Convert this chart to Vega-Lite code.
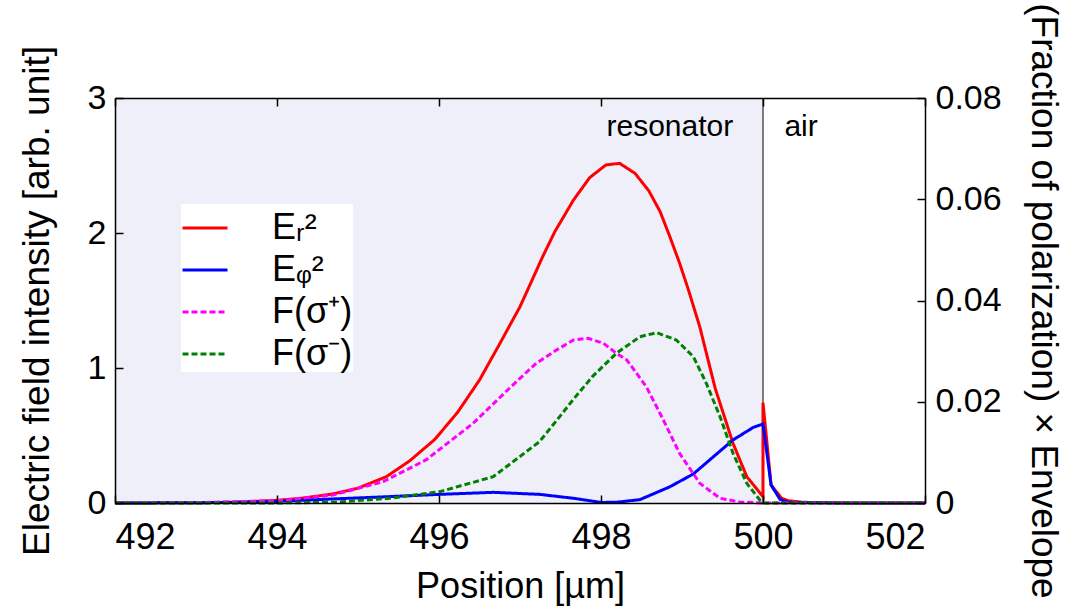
{
  "$schema": "https://vega.github.io/schema/vega-lite/v6.json",
  "width": 810,
  "height": 405,
  "autosize": {"type": "none"},
  "padding": {"left": 115, "top": 98, "right": 144, "bottom": 111},
  "background": "white",
  "config": {
    "font": "Liberation Sans",
    "view": {"stroke": null},
    "axis": {
      "domainColor": "black", "domainWidth": 1.5, "tickColor": "black", "tickWidth": 1.5,
      "grid": false, "labelColor": "black", "titleColor": "black", "titleFontWeight": "normal",
      "labelFontSize": 34, "titleFontSize": 37, "labelFont": "Liberation Sans", "titleFont": "Liberation Sans"
    }
  },
  "datasets": {
    "curves": [
      {"series": "Eᵣ²", "x": 492.0, "v": 0.0},
      {"series": "Eᵣ²", "x": 492.5, "v": 0.001},
      {"series": "Eᵣ²", "x": 493.0, "v": 0.002},
      {"series": "Eᵣ²", "x": 493.5, "v": 0.006},
      {"series": "Eᵣ²", "x": 494.0, "v": 0.02},
      {"series": "Eᵣ²", "x": 494.3, "v": 0.035},
      {"series": "Eᵣ²", "x": 494.69, "v": 0.067},
      {"series": "Eᵣ²", "x": 495.0, "v": 0.11},
      {"series": "Eᵣ²", "x": 495.35, "v": 0.195},
      {"series": "Eᵣ²", "x": 495.64, "v": 0.313},
      {"series": "Eᵣ²", "x": 495.95, "v": 0.472},
      {"series": "Eᵣ²", "x": 496.23, "v": 0.672},
      {"series": "Eᵣ²", "x": 496.5, "v": 0.911},
      {"series": "Eᵣ²", "x": 496.73, "v": 1.158},
      {"series": "Eᵣ²", "x": 497.0, "v": 1.454},
      {"series": "Eᵣ²", "x": 497.14, "v": 1.639},
      {"series": "Eᵣ²", "x": 497.28, "v": 1.825},
      {"series": "Eᵣ²", "x": 497.43, "v": 2.01},
      {"series": "Eᵣ²", "x": 497.66, "v": 2.244},
      {"series": "Eᵣ²", "x": 497.86, "v": 2.41},
      {"series": "Eᵣ²", "x": 498.06, "v": 2.504},
      {"series": "Eᵣ²", "x": 498.23, "v": 2.516},
      {"series": "Eᵣ²", "x": 498.42, "v": 2.442},
      {"series": "Eᵣ²", "x": 498.59, "v": 2.313},
      {"series": "Eᵣ²", "x": 498.73, "v": 2.158},
      {"series": "Eᵣ²", "x": 498.85, "v": 1.973},
      {"series": "Eᵣ²", "x": 498.97, "v": 1.777},
      {"series": "Eᵣ²", "x": 499.08, "v": 1.578},
      {"series": "Eᵣ²", "x": 499.22, "v": 1.304},
      {"series": "Eᵣ²", "x": 499.41, "v": 0.849},
      {"series": "Eᵣ²", "x": 499.63, "v": 0.442},
      {"series": "Eᵣ²", "x": 499.8, "v": 0.195},
      {"series": "Eᵣ²", "x": 500.0, "v": 0.047},
      {"series": "Eᵣ²", "x": 500.0, "v": 0.743},
      {"series": "Eᵣ²", "x": 500.1, "v": 0.133},
      {"series": "Eᵣ²", "x": 500.23, "v": 0.035},
      {"series": "Eᵣ²", "x": 500.31, "v": 0.017},
      {"series": "Eᵣ²", "x": 500.5, "v": 0.005},
      {"series": "Eᵣ²", "x": 501.0, "v": 0.001},
      {"series": "Eᵣ²", "x": 502.0, "v": 0.0},

      {"series": "Eᵩ²", "x": 492.0, "v": 0.0},
      {"series": "Eᵩ²", "x": 493.0, "v": 0.002},
      {"series": "Eᵩ²", "x": 493.54, "v": 0.005},
      {"series": "Eᵩ²", "x": 494.0, "v": 0.012},
      {"series": "Eᵩ²", "x": 494.69, "v": 0.03},
      {"series": "Eᵩ²", "x": 495.3, "v": 0.045},
      {"series": "Eᵩ²", "x": 496.01, "v": 0.064},
      {"series": "Eᵩ²", "x": 496.67, "v": 0.079},
      {"series": "Eᵩ²", "x": 497.24, "v": 0.064},
      {"series": "Eᵩ²", "x": 497.66, "v": 0.035},
      {"series": "Eᵩ²", "x": 498.0, "v": 0.004},
      {"series": "Eᵩ²", "x": 498.2, "v": 0.006},
      {"series": "Eᵩ²", "x": 498.48, "v": 0.025},
      {"series": "Eᵩ²", "x": 498.85, "v": 0.12},
      {"series": "Eᵩ²", "x": 499.14, "v": 0.215},
      {"series": "Eᵩ²", "x": 499.34, "v": 0.318},
      {"series": "Eᵩ²", "x": 499.63, "v": 0.467},
      {"series": "Eᵩ²", "x": 499.88, "v": 0.56},
      {"series": "Eᵩ²", "x": 500.0, "v": 0.585},
      {"series": "Eᵩ²", "x": 500.1, "v": 0.133},
      {"series": "Eᵩ²", "x": 500.21, "v": 0.027},
      {"series": "Eᵩ²", "x": 500.31, "v": 0.005},
      {"series": "Eᵩ²", "x": 501.0, "v": 0.0},
      {"series": "Eᵩ²", "x": 502.0, "v": 0.0},

      {"series": "F(σ⁺)", "x": 492.0, "v": 0.0},
      {"series": "F(σ⁺)", "x": 493.0, "v": 0.00008},
      {"series": "F(σ⁺)", "x": 494.0, "v": 0.00045},
      {"series": "F(σ⁺)", "x": 494.69, "v": 0.00157},
      {"series": "F(σ⁺)", "x": 495.31, "v": 0.00421},
      {"series": "F(σ⁺)", "x": 495.84, "v": 0.00851},
      {"series": "F(σ⁺)", "x": 496.42, "v": 0.01573},
      {"series": "F(σ⁺)", "x": 496.87, "v": 0.02267},
      {"series": "F(σ⁺)", "x": 497.2, "v": 0.0276},
      {"series": "F(σ⁺)", "x": 497.45, "v": 0.03021},
      {"series": "F(σ⁺)", "x": 497.66, "v": 0.03219},
      {"series": "F(σ⁺)", "x": 497.84, "v": 0.03253},
      {"series": "F(σ⁺)", "x": 498.03, "v": 0.03155},
      {"series": "F(σ⁺)", "x": 498.19, "v": 0.02957},
      {"series": "F(σ⁺)", "x": 498.32, "v": 0.02824},
      {"series": "F(σ⁺)", "x": 498.56, "v": 0.02296},
      {"series": "F(σ⁺)", "x": 498.77, "v": 0.0164},
      {"series": "F(σ⁺)", "x": 498.97, "v": 0.00981},
      {"series": "F(σ⁺)", "x": 499.22, "v": 0.00389},
      {"series": "F(σ⁺)", "x": 499.47, "v": 0.00093},
      {"series": "F(σ⁺)", "x": 499.71, "v": 0.00021},
      {"series": "F(σ⁺)", "x": 500.0, "v": 0.0},
      {"series": "F(σ⁺)", "x": 502.0, "v": 0.0},

      {"series": "F(σ⁻)", "x": 492.0, "v": 0.0},
      {"series": "F(σ⁻)", "x": 494.0, "v": 0.00001},
      {"series": "F(σ⁻)", "x": 494.69, "v": 0.00013},
      {"series": "F(σ⁻)", "x": 495.39, "v": 0.00093},
      {"series": "F(σ⁻)", "x": 496.01, "v": 0.00224},
      {"series": "F(σ⁻)", "x": 496.67, "v": 0.0052},
      {"series": "F(σ⁻)", "x": 497.24, "v": 0.01211},
      {"series": "F(σ⁻)", "x": 497.49, "v": 0.01707},
      {"series": "F(σ⁻)", "x": 497.66, "v": 0.0205},
      {"series": "F(σ⁻)", "x": 497.9, "v": 0.02507},
      {"series": "F(σ⁻)", "x": 498.19, "v": 0.02957},
      {"series": "F(σ⁻)", "x": 498.48, "v": 0.03285},
      {"series": "F(σ⁻)", "x": 498.69, "v": 0.03363},
      {"series": "F(σ⁻)", "x": 498.93, "v": 0.03219},
      {"series": "F(σ⁻)", "x": 499.14, "v": 0.02891},
      {"series": "F(σ⁻)", "x": 499.3, "v": 0.02365},
      {"series": "F(σ⁻)", "x": 499.47, "v": 0.01704},
      {"series": "F(σ⁻)", "x": 499.63, "v": 0.00981},
      {"series": "F(σ⁻)", "x": 499.8, "v": 0.00389},
      {"series": "F(σ⁻)", "x": 499.96, "v": 0.00059},
      {"series": "F(σ⁻)", "x": 500.0, "v": 0.0},
      {"series": "F(σ⁻)", "x": 502.0, "v": 0.0}
    ]
  },
  "layer": [
    {
      "layer": [
        {
          "data": {"values": [{"start": 492, "end": 500}]},
          "mark": {"type": "rect", "color": "#eeeff8"},
          "encoding": {
            "x": {"field": "start", "type": "quantitative", "title": "Position [µm]",
              "scale": {"domain": [492, 502], "nice": false, "zero": false},
              "axis": {"orient": "bottom", "zindex": 2, "ticks": true, "values": [492, 494, 496, 498, 500, 502], "format": "d", "tickSize": -8, "labelPadding": 25, "labelFontSize": 36, "titlePadding": 14, "titleFontSize": 36}},
            "x2": {"field": "end"}
          }
        },
        {
          "data": {"values": [{"boundary": 500}]},
          "mark": {"type": "rule", "color": "black", "strokeWidth": 1},
          "encoding": {"x": {"field": "boundary", "type": "quantitative", "title": "Position [µm]"}}
        },
        {
          "data": {"name": "curves"},
          "transform": [{"filter": "datum.series === 'Eᵣ²' || datum.series === 'Eᵩ²'"}],
          "mark": {"type": "line", "strokeWidth": 3},
          "encoding": {
            "x": {"field": "x", "type": "quantitative", "title": "Position [µm]"},
            "y": {"field": "v", "type": "quantitative", "title": "Electric field intensity [arb. unit]",
              "scale": {"domain": [0, 3], "nice": false},
              "axis": {"orient": "left", "zindex": 2, "ticks": true, "values": [0, 1, 2, 3], "format": "d", "tickSize": -8, "labelPadding": 17, "titlePadding": 31}},
            "order": {"value": null},
            "color": {"field": "series", "type": "nominal",
              "scale": {"domain": ["Eᵣ²", "Eᵩ²", "F(σ⁺)", "F(σ⁻)"], "range": ["#ff0000", "#0000ff", "#ff00ff", "#008000"]},
              "legend": {"title": null, "orient": "none", "legendX": 66, "legendY": 106, "fillColor": "white", "padding": 0,
                "symbolType": "stroke", "symbolSize": 2025, "symbolStrokeWidth": 3, "labelFontSize": 36, "labelOffset": 43,
                "rowPadding": -6, "labelColor": "black", "labelFont": "Liberation Sans"}},
            "strokeDash": {"field": "series", "type": "nominal",
              "scale": {"domain": ["Eᵣ²", "Eᵩ²", "F(σ⁺)", "F(σ⁻)"], "range": [[1, 0], [1, 0], [6, 3], [6, 3]]},
              "legend": {"title": null, "orient": "none", "legendX": 66, "legendY": 106, "fillColor": "white", "padding": 0,
                "symbolType": "stroke", "symbolSize": 2025, "symbolStrokeWidth": 3, "labelFontSize": 36, "labelOffset": 43,
                "rowPadding": -6, "labelColor": "black", "labelFont": "Liberation Sans"}}
          }
        },
        {
          "data": {"values": [{"label": "resonator", "x": 498.85, "v": 2.785}, {"label": "air", "x": 500.47, "v": 2.785}]},
          "mark": {"type": "text", "fontSize": 30, "align": "center", "baseline": "middle", "color": "black", "font": "Liberation Sans"},
          "encoding": {
            "x": {"field": "x", "type": "quantitative", "title": "Position [µm]"},
            "y": {"field": "v", "type": "quantitative", "title": "Electric field intensity [arb. unit]"},
            "text": {"field": "label"}
          }
        }
      ]
    },
    {
      "data": {"name": "curves"},
      "transform": [{"filter": "datum.series === 'F(σ⁺)' || datum.series === 'F(σ⁻)'"}],
      "mark": {"type": "line", "strokeWidth": 3},
      "encoding": {
        "x": {"field": "x", "type": "quantitative", "title": null,
          "axis": {"orient": "top", "zindex": 2, "ticks": true, "values": [492, 494, 496, 498, 500, 502], "tickSize": -8, "labels": false, "title": null}},
        "y": {"field": "v", "type": "quantitative", "title": "(Fraction of polarization) × Envelope",
          "scale": {"domain": [0, 0.08], "nice": false},
          "axis": {"orient": "right", "zindex": 2, "ticks": true, "values": [0, 0.02, 0.04, 0.06, 0.08], "format": ".2~f", "tickSize": -8, "labelPadding": 18, "titlePadding": 22, "titleAngle": 90}},
        "order": {"value": null},
        "color": {"field": "series", "type": "nominal"},
        "strokeDash": {"field": "series", "type": "nominal"}
      }
    }
  ],
  "resolve": {"scale": {"y": "independent"}, "axis": {"x": "independent", "y": "independent"}}
}
